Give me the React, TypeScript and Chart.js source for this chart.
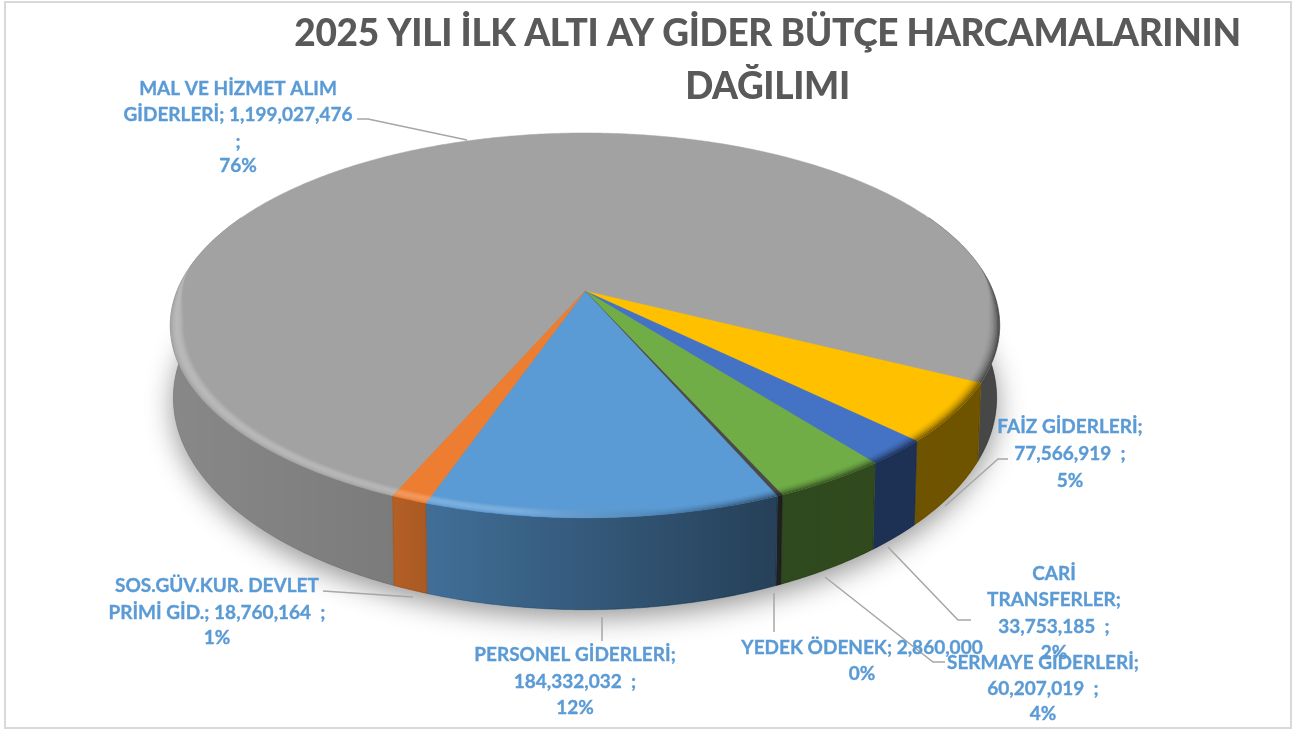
import React, { useEffect, useRef } from "react";
import { Chart, registerables } from "chart.js";

Chart.register(...registerables);

const categories = ["MAL VE HİZMET ALIM GİDERLERİ", "FAİZ GİDERLERİ", "CARİ TRANSFERLER", "SERMAYE GİDERLERİ", "YEDEK ÖDENEK", "PERSONEL GİDERLERİ", "SOS.GÜV.KUR. DEVLET PRİMİ GİD."];
const values = [1199027476, 77566919, 33753185, 60207019, 2860000, 184332032, 18760164];
const colors = ["#a2a2a2", "#ffc000", "#4472c4", "#70ad47", "#4a4a4a", "#5b9bd5", "#ed7d31"];
const titleLines = ["2025 YILI İLK ALTI AY GİDER BÜTÇE HARCAMALARININ", "DAĞILIMI"];
const labelLines = [
  ["MAL VE HİZMET ALIM", "GİDERLERİ; 1,199,027,476", ";", "76%"],
  ["FAİZ GİDERLERİ;", "77,566,919  ;", "5%"],
  ["CARİ", "TRANSFERLER;", "33,753,185  ;", "2%"],
  ["SERMAYE GİDERLERİ;", "60,207,019  ;", "4%"],
  ["YEDEK ÖDENEK; 2,860,000", "0%"],
  ["PERSONEL GİDERLERİ;", "184,332,032  ;", "12%"],
  ["SOS.GÜV.KUR. DEVLET", "PRİMİ GİD.; 18,760,164  ;", "1%"],
];
const labelAnchors = [[238, 89], [1070, 427], [1054, 574], [1043, 663], [862, 648], [575, 655], [217, 586]];
const labelLineYs = [[0, 26, 53, 77], [0, 27, 54], [0, 26, 53, 79], [0, 26, 51], [0, 26], [0, 27, 53], [0, 27, 52]];
const leaders = [
  [[357, 119], [368, 119], [467, 140]],
  [[1008, 459], [998, 459], [945, 506]],
  [[888, 547], [958, 620], [971, 620]],
  [[825, 577], [933, 662], [945, 662]],
  [[774, 593], [774, 632]],
  [[602, 617], [602, 641]],
  [[323, 591], [413, 597]],
];

const CX = 585, K = 0.179;
const TOP = { cy: 291, a: 186.3, b: 408 };
const BOTTOM = { cy: 360, a: 205, b: 405 };
const FONT = "Lato";

type P = { cy: number; a: number; b: number };
const project = (lvl: P, r: number, ang: number): [number, number] => {
  const u = r * Math.cos(ang), v = r * Math.sin(ang);
  const w = 1 / (1 - K * v);
  return [CX + lvl.b * u * w, lvl.cy + lvl.a * v * w];
};
const rad = (d: number) => (d * Math.PI) / 180;
const arcAngles = (a0: number, a1: number) => {
  const n = Math.max(2, Math.ceil(Math.abs(a1 - a0) / rad(0.5)));
  const out: number[] = [];
  for (let i = 0; i <= n; i++) out.push(a0 + ((a1 - a0) * i) / n);
  return out;
};
const trace = (ctx: CanvasRenderingContext2D, pts: [number, number][]) => {
  ctx.beginPath();
  pts.forEach((p, i) => (i ? ctx.lineTo(p[0], p[1]) : ctx.moveTo(p[0], p[1])));
  ctx.closePath();
};
const smooth = (t: number) => {
  const x = Math.min(1, Math.max(0, t));
  return x * x * (3 - 2 * x);
};

const pie3d = {
  id: "pie3d",
  beforeDraw(chart: any) {
    chart.ctx.letterSpacing = "-0.33px";
  },
  beforeDatasetsDraw(chart: any) {
    const ctx: CanvasRenderingContext2D = chart.ctx;
    const arcs: any[] = chart.getDatasetMeta(0).data;
    ctx.save();

    // soft shadow under the disc
    ctx.save();
    ctx.shadowColor = "rgba(0,0,0,0.42)";
    ctx.shadowBlur = 28;
    ctx.shadowOffsetY = 8;
    ctx.fillStyle = "#888";
    trace(ctx, arcAngles(0, Math.PI * 2).map((a) => project(BOTTOM, 1, a)));
    ctx.fill();
    ctx.restore();

    // side walls
    const wallShade = ctx.createLinearGradient(170, 0, 1000, 0);
    [[0, 0.16], [0.265, 0.24], [0.313, 0.29], [0.72, 0.58], [1, 0.56]].forEach(([s, a]) =>
      wallShade.addColorStop(s, `rgba(0,0,0,${a})`));
    const visible = [[rad(-25), rad(205)], [rad(335), rad(565)]];
    arcs.forEach((arc, i) => {
      visible.forEach(([lo, hi]) => {
        const norm = arc.startAngle < 0 ? Math.PI * 2 : 0;
        const s = Math.max(arc.startAngle + norm, lo);
        const e = Math.min(arc.endAngle + norm, hi);
        if (e <= s) return;
        const as = arcAngles(s, e);
        const pts = as.map((a) => project(TOP, 1, a)).concat(as.slice().reverse().map((a) => project(BOTTOM, 1, a)));
        for (const style of [colors[i], wallShade]) {
          trace(ctx, pts);
          ctx.fillStyle = style as any;
          ctx.strokeStyle = style as any;
          ctx.lineWidth = 0.5;
          ctx.fill();
          ctx.stroke();
        }
      });
    });

    // top faces
    arcs.forEach((arc, i) => {
      const pts = arcAngles(arc.startAngle, arc.endAngle).map((a) => project(TOP, 1, a));
      pts.push(project(TOP, 0, 0));
      trace(ctx, pts);
      ctx.fillStyle = colors[i];
      ctx.strokeStyle = colors[i];
      ctx.lineWidth = 0.5;
      ctx.fill();
      ctx.stroke();
    });

    // bevelled rim
    const bands = 10, depth = 0.032;
    const taper = (a: number) => smooth((Math.sin(a) + 0.16) / 0.34);
    arcs.forEach((arc) => {
      for (let b = 0; b < bands; b++) {
        const t = (b + 0.5) / bands;
        const light = 0.26 * Math.sin(Math.PI * Math.min(1, t));
        const dark = 0.55 * t * t;
        const g = ctx.createLinearGradient(170, 0, 1000, 0);
        g.addColorStop(0, `rgba(255,255,255,${light})`);
        g.addColorStop(0.42, `rgba(255,255,255,${light * 0.75})`);
        g.addColorStop(0.6, `rgba(0,0,0,${dark * 0.35})`);
        g.addColorStop(0.75, `rgba(0,0,0,${dark})`);
        g.addColorStop(1, `rgba(0,0,0,${dark * 1.1})`);
        const as = arcAngles(arc.startAngle, arc.endAngle);
        const outer = as.map((a) => project(TOP, 1 - (depth * (bands - 1 - b) * taper(a)) / bands, a));
        const inner = as.slice().reverse().map((a) => project(TOP, 1 - (depth * (bands - b) * taper(a)) / bands, a));
        trace(ctx, outer.concat(inner));
        ctx.fillStyle = g;
        ctx.fill();
      }
    });
    ctx.restore();
    return false;
  },
  afterDraw(chart: any) {
    const ctx: CanvasRenderingContext2D = chart.ctx;
    ctx.save();
    (ctx as any).letterSpacing = "0px";
    ctx.strokeStyle = "#d9d9d9";
    ctx.lineWidth = 2;
    ctx.strokeRect(5, 2, 1286, 726);

    ctx.strokeStyle = "#a6a6a6";
    ctx.lineWidth = 1.5;
    leaders.forEach((line) => {
      ctx.beginPath();
      line.forEach((p, i) => (i ? ctx.lineTo(p[0], p[1]) : ctx.moveTo(p[0], p[1])));
      ctx.stroke();
    });

    ctx.font = `bold 19px ${FONT}`;
    ctx.fillStyle = "#5b9bd5";
    ctx.strokeStyle = "#5b9bd5";
    ctx.lineWidth = 0.35;
    ctx.textAlign = "center";
    ctx.textBaseline = "middle";
    labelLines.forEach((lines, i) => {
      lines.forEach((text, j) => {
        const y = labelAnchors[i][1] + labelLineYs[i][j];
        ctx.fillText(text, labelAnchors[i][0], y);
        ctx.strokeText(text, labelAnchors[i][0], y);
      });
    });
    ctx.restore();
  },
};

export default function App() {
  const ref = useRef<HTMLCanvasElement>(null);
  useEffect(() => {
    document.body.style.margin = "0";
    const chart = new Chart(ref.current!, {
      type: "pie",
      data: { labels: categories, datasets: [{ data: values, backgroundColor: colors, borderWidth: 0 }] },
      options: {
        responsive: false,
        animation: false,
        rotation: 203.2,
        layout: { padding: { left: 228 } },
        plugins: {
          legend: { display: false },
          tooltip: { enabled: false },
          title: {
            display: true,
            text: titleLines,
            color: "#595959",
            fullSize: false,
            font: { family: FONT, size: 37, weight: "900", lineHeight: 1.43 },
            padding: { top: 8, bottom: 0 },
          },
        },
      },
      plugins: [pie3d],
    } as any);
    return () => chart.destroy();
  }, []);
  return <canvas ref={ref} width={1307} height={731} style={{ display: "block" }} />;
}
